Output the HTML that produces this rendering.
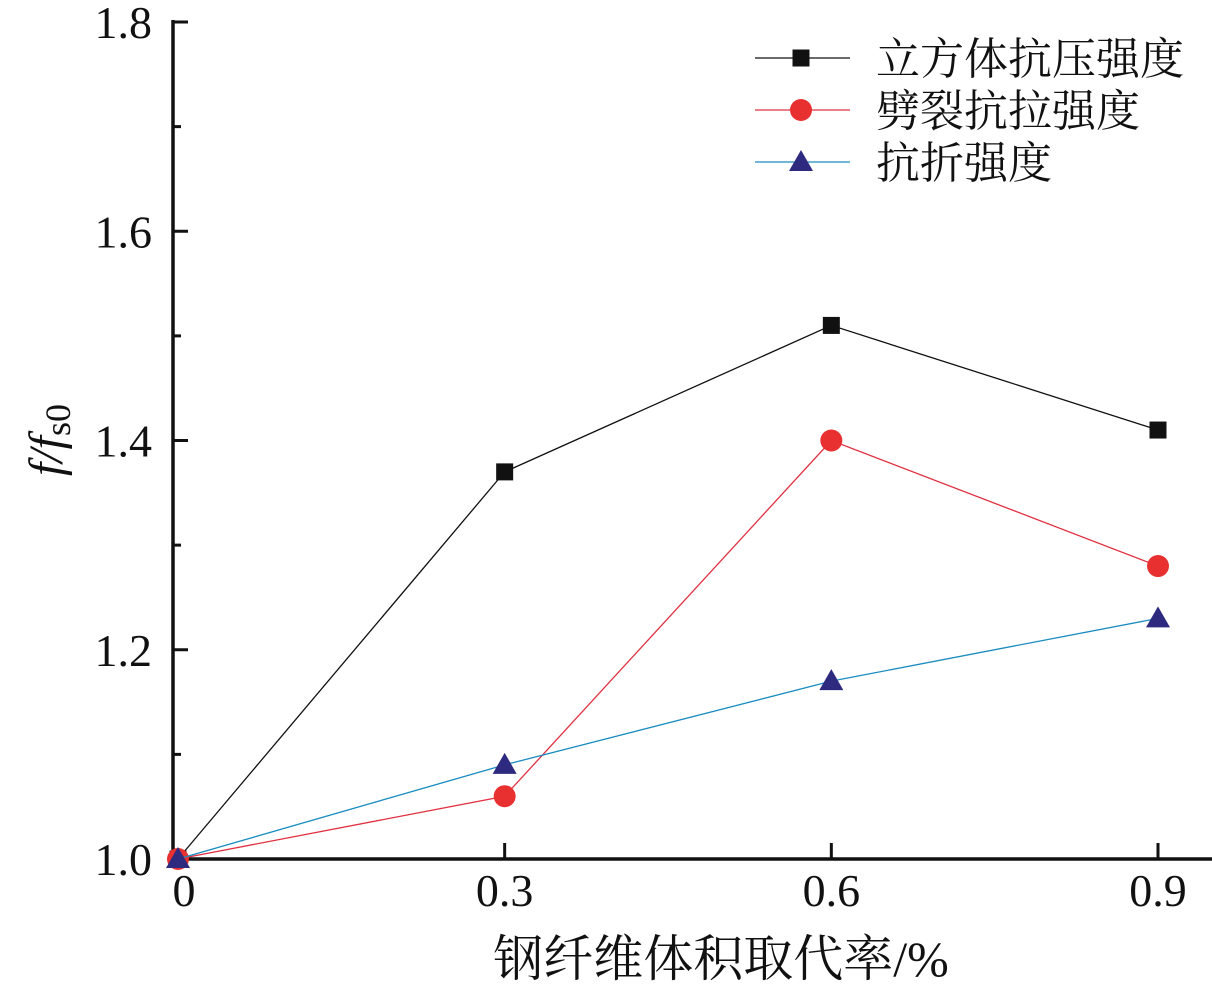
<!DOCTYPE html>
<html><head><meta charset="utf-8"><style>
body{margin:0;background:#fff}
svg text{font-family:"Liberation Serif","Noto Serif CJK SC",serif;fill:#111}
</style></head><body>
<svg id="chart" width="1212" height="996" xmlns="http://www.w3.org/2000/svg">
<g id="axes"></g>
<g id="series"></g>
<g id="legend"></g>
<text transform="translate(62,440) rotate(-90)" text-anchor="middle" font-size="48" font-style="italic">f/f<tspan font-style="normal" font-size="36" dy="8">s0</tspan></text>
<text x="721" y="976" text-anchor="middle" font-size="50">钢纤维体积取代率/%</text>
</svg>
<script>
const categories=[0,0.3,0.6,0.9];
const xTickLabels=["0","0.3","0.6","0.9"];
const yTicks=[1.0,1.2,1.4,1.6,1.8];
const yTickLabels=["1.0","1.2","1.4","1.6","1.8"];
const cubeValues=[1.0,1.37,1.51,1.41];
const splitValues=[1.0,1.06,1.40,1.28];
const flexValues=[1.0,1.09,1.17,1.23];
const seriesNames=["立方体抗压强度","劈裂抗拉强度","抗折强度"];

const NS="http://www.w3.org/2000/svg";
const X0=178,X1=1158,Y0=859,Y1=22;
const xs=v=>X0+(v-0)/(0.9-0)*(X1-X0);
const ys=v=>Y0-(v-1.0)/(0.8)*(Y0-Y1);
function mk(tag,attrs,parent){const e=document.createElementNS(NS,tag);for(const k in attrs)e.setAttribute(k,attrs[k]);parent.appendChild(e);return e;}
const axes=document.getElementById('axes');
let l=mk('line',{x1:173,y1:Y1-2,x2:173,y2:Y0+2,stroke:'#111','stroke-width':3.5},axes);


l=mk('line',{x1:171.5,y1:Y0,x2:1212,y2:Y0,stroke:'#111','stroke-width':3.5},axes);


yTicks.forEach((v,i)=>{
  const t=mk('line',{x1:173,x2:188,y1:ys(v),y2:ys(v),stroke:'#111','stroke-width':3},axes);
  
  
  if(i<yTicks.length-1){const m=mk('line',{x1:173,x2:181,y1:ys(v+0.1),y2:ys(v+0.1),stroke:'#111','stroke-width':3},axes);
  
  }
  const tx=mk('text',{x:152,y:ys(v)+16,'text-anchor':'end','font-size':46},axes);tx.textContent=yTickLabels[i];
  
  
});
categories.forEach((c,i)=>{
  if(i>0){const t=mk('line',{x1:xs(c),x2:xs(c),y1:Y0,y2:Y0-16,stroke:'#111','stroke-width':3},axes);
  
  }
  const tx=mk('text',{x:xs(c)+(i==0?6:0),y:906,'text-anchor':'middle','font-size':46},axes);tx.textContent=xTickLabels[i];
  
  
});
const ser=document.getElementById('series');
function marker(type,x,y,fill,g){
  let e;
  if(type==='sq')e=mk('rect',{x:x-8.5,y:y-8.5,width:17,height:17,fill:fill},g);
  else if(type==='ci')e=mk('circle',{cx:x,cy:y,r:11,fill:fill},g);
  else e=mk('polygon',{points:`${x},${y-12} ${x-12},${y+9} ${x+12},${y+9}`,fill:fill},g);
  
  
}
const defs=[[cubeValues,'#111','#111','sq'],[splitValues,'#e03040','#e83030','ci'],[flexValues,'#1a8cc0','#2e2a80','tr']];
defs.forEach(([vals,lc,mc,type],si)=>{
  const g=mk('g',{},ser);
  
  
  const p=mk('polyline',{points:vals.map((v,i)=>xs(categories[i])+','+ys(v)).join(' '),fill:'none',stroke:lc,'stroke-width':1.3},g);
  
  
  vals.forEach((v,i)=>marker(type,xs(categories[i]),ys(v),mc,g));
});
const lg=document.getElementById('legend');
defs.forEach(([vals,lc,mc,type],i)=>{
  const y=58+i*52;
  const g=mk('g',{},lg);
  
  
  mk('line',{x1:755,x2:850,y1:y,y2:y,stroke:lc,'stroke-width':1.3},g);
  marker(type,801,y,mc,g);
  const t=mk('text',{x:876,y:y+16,'font-size':44},g);t.textContent=seriesNames[i];
  
  
});
</script>
</body></html>
